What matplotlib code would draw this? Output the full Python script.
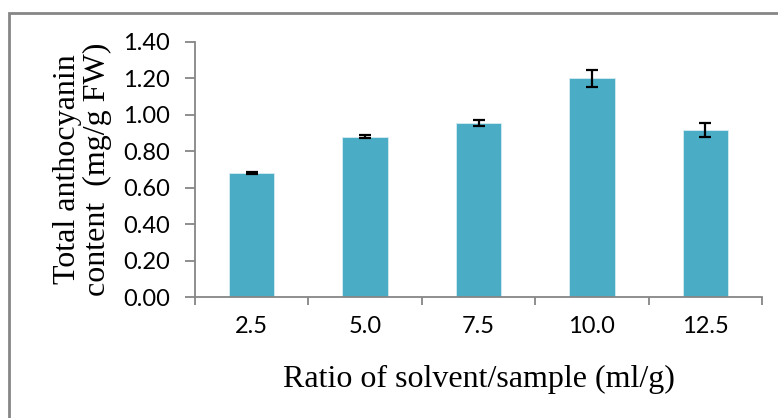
import matplotlib
matplotlib.use("Agg")
import matplotlib.pyplot as plt
from matplotlib.patches import Rectangle
from matplotlib.ticker import FixedLocator, NullFormatter

# data
ratios = ["2.5", "5.0", "7.5", "10.0", "12.5"]
anthocyanin = [0.68, 0.88, 0.955, 1.20, 0.917]
errors = [0.004, 0.009, 0.016, 0.047, 0.037]

bar_color = "#4BACC6"
gray = "#868686"

fig = plt.figure(figsize=(7.78, 4.18), dpi=100)
ax = fig.add_axes([195/778, 1 - 297/418, (762 - 195)/778, (297 - 42)/418])

# outer frame like the chart area border
fig.patches.append(Rectangle((9/778, -0.1), 1.2, 1 - 13/418 + 0.1,
                             transform=fig.transFigure, fill=False,
                             edgecolor=gray, linewidth=2))

x = list(range(len(ratios)))
ax.bar(x, anthocyanin, width=0.4, color=bar_color, edgecolor="#d6ecf2", linewidth=0.6,
       yerr=errors, error_kw=dict(ecolor="black", elinewidth=1.6, capsize=4.5, capthick=1.6))

ax.set_xlim(-0.5, len(ratios) - 0.5)
ax.set_ylim(0, 1.4)
ax.set_yticks([0, 0.2, 0.4, 0.6, 0.8, 1.0, 1.2, 1.4])
ax.set_yticklabels(["%.2f" % v for v in ax.get_yticks()])

# ticks between categories, labels centred
ax.xaxis.set_major_locator(FixedLocator([i - 0.5 for i in range(len(ratios) + 1)]))
ax.xaxis.set_major_formatter(NullFormatter())
ax.xaxis.set_minor_locator(FixedLocator(x))
ax.set_xticklabels(ratios, minor=True)
ax.tick_params(axis="x", which="minor", length=0, pad=14)
ax.tick_params(axis="x", which="major", length=6, color=gray, width=1.3)
ax.tick_params(axis="y", length=7, color=gray, width=1.3, pad=11)

for lab in ax.get_xticklabels(minor=True) + ax.get_yticklabels():
    lab.set_family("Lato")
    lab.set_fontsize(17)

for s in ["top", "right"]:
    ax.spines[s].set_visible(False)
for s in ["left", "bottom"]:
    ax.spines[s].set_color(gray)
    ax.spines[s].set_linewidth(1.3)

ax.set_xlabel("Ratio of solvent/sample (ml/g)", family="Liberation Serif", fontsize=23, labelpad=20)
ax.set_ylabel("Total anthocyanin\ncontent  (mg/g FW)", family="Liberation Serif", fontsize=23,
              linespacing=1.05, labelpad=8)

fig.savefig("out.png", dpi=100)
